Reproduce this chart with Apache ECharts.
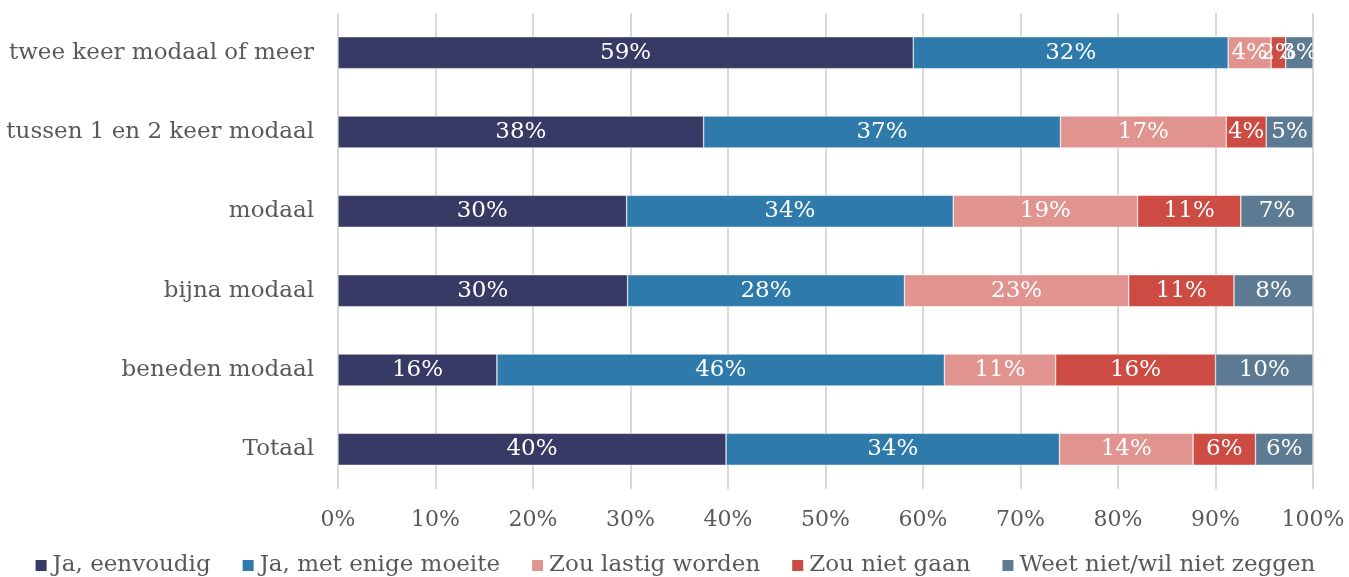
<!DOCTYPE html>
<html>
<head>
<meta charset="utf-8">
<script src="https://cdn.jsdelivr.net/npm/echarts@6/dist/echarts.min.js"></script>
<style>
html, body { margin: 0; padding: 0; background: #fff; }
#chart { width: 1349px; height: 577px; }
</style>
</head>
<body>
<div id="chart"></div>
<script>
var categories = [ 'Totaal', 'beneden modaal', 'bijna modaal', 'modaal',
		'tussen 1 en 2 keer modaal', 'twee keer modaal of meer' ];
var seriesNames = [ 'Ja, eenvoudig', 'Ja, met enige moeite', 'Zou lastig worden',
		'Zou niet gaan', 'Weet niet/wil niet zeggen' ];
var jaEenvoudig = [ 39.8, 16.3, 29.7, 29.6, 37.5, 59.0 ];
var jaMoeite = [ 34.2, 45.9, 28.4, 33.5, 36.6, 32.3 ];
var lastig = [ 13.7, 11.4, 23.0, 18.9, 17.0, 4.4 ];
var nietGaan = [ 6.4, 16.4, 10.8, 10.6, 4.1, 1.5 ];
var weetNiet = [ 5.9, 10.0, 8.1, 7.4, 4.8, 2.8 ];
var values = [ jaEenvoudig, jaMoeite, lastig, nietGaan, weetNiet ];
var colors = [ '#383a66', '#2e7bab', '#e0938f', '#cc4b42', '#5c7a91' ];

var font = 'DejaVu Serif';
var chart = echarts.init(document.getElementById('chart'));

var series = [];
for (var i = 0; i < values.length; i++) {
	series.push({
		name : seriesNames[i],
		type : 'bar',
		stack : 'total',
		barWidth : 32,
		data : values[i],
		itemStyle : {
			color : colors[i],
			borderColor : '#ffffff',
			borderWidth : 0.5
		},
		label : {
			show : true,
			position : 'inside',
			color : '#ffffff',
			fontFamily : font,
			fontSize : 23,
			formatter : function(p) {
				return Math.round(p.value) + '%';
			}
		}
	});
}

chart.setOption({
	animation : false,
	color : colors,
	grid : {
		left : 338,
		right : 36,
		top : 13,
		bottom : 88
	},
	legend : {
		top : 549,
		left : 'center',
		itemWidth : 13,
		itemHeight : 13,
		itemGap : 30,
		icon : 'rect',
		textStyle : {
			fontFamily : font,
			fontSize : 23,
			color : '#595959'
		},
		data : seriesNames
	},
	xAxis : {
		type : 'value',
		min : 0,
		max : 100,
		interval : 10,
		axisLine : { show : false },
		axisTick : { show : false },
		splitLine : { lineStyle : { color : '#d9d9d9', width : 2 } },
		axisLabel : {
			formatter : '{value}%',
			fontFamily : font,
			fontSize : 22,
			color : '#595959',
			margin : 20
		}
	},
	yAxis : {
		type : 'category',
		data : categories,
		axisLine : { show : false },
		axisTick : { show : false },
		axisLabel : {
			fontFamily : font,
			fontSize : 23,
			color : '#595959',
			margin : 24
		}
	},
	series : series
});
</script>
</body>
</html>
